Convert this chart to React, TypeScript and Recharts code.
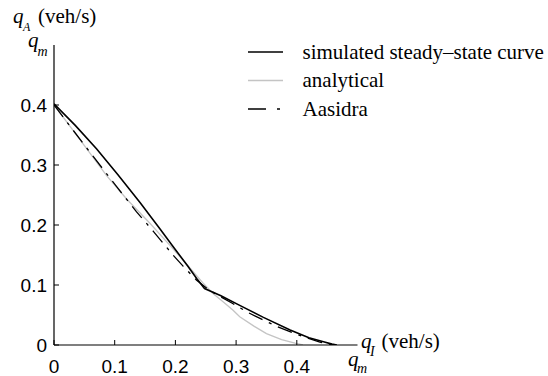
import React from 'react';
import { LineChart, Line, XAxis, YAxis, Legend } from 'recharts';

// ---- data ----
const xTicks = [0, 0.1, 0.2, 0.3, 0.4];
const yTicks = [0, 0.1, 0.2, 0.3, 0.4];

const simQI = [0, 0.035, 0.07, 0.105, 0.142, 0.175, 0.197, 0.22, 0.235, 0.248, 0.275, 0.306, 0.345, 0.389, 0.42, 0.444, 0.458, 0.466];
const simQA = [0.402, 0.366, 0.327, 0.284, 0.237, 0.193, 0.163, 0.132, 0.111, 0.094, 0.082, 0.066, 0.046, 0.025, 0.012, 0.0055, 0.0015, 0];

const anaQI = [0, 0.04, 0.087, 0.12, 0.158, 0.191, 0.22, 0.245, 0.262, 0.28, 0.295, 0.306, 0.33, 0.35, 0.375, 0.397, 0.41];
const anaQA = [0.4, 0.346, 0.282, 0.243, 0.203, 0.166, 0.133, 0.104, 0.086, 0.071, 0.058, 0.047, 0.031, 0.019, 0.009, 0.003, 0];

const aasQI = [0, 0.048, 0.1, 0.136, 0.164, 0.196, 0.213, 0.235, 0.255, 0.27, 0.293, 0.32, 0.342, 0.367, 0.392, 0.416, 0.438, 0.46];
const aasQA = [0.4, 0.336, 0.268, 0.222, 0.189, 0.15, 0.131, 0.108, 0.092, 0.083, 0.07, 0.054, 0.043, 0.031, 0.021, 0.012, 0.005, 0];

const seriesNames = ['simulated steady\u2013state curve', 'analytical', 'Aasidra'];

const toPoints = (xs: number[], ys: number[]) => xs.map((x, i) => ({ x, y: ys[i] }));
const simData = toPoints(simQI, simQA);
const anaData = toPoints(anaQI, anaQA);
const aasData = toPoints(aasQI, aasQA);

const tickFont = 'Liberation Sans, Arial, sans-serif';
const serif = 'Liberation Serif, Times New Roman, Times, serif';
const fmt = (v: number) => (v === 0 ? '0' : v.toFixed(1));

const YTick = (props: any) => {
  const { x, y, payload } = props;
  return (
    <g>
      <line x1={x} y1={y} x2={x + 5} y2={y} stroke="#000" strokeWidth={1} />
      <text x={x - 7} y={y} dy="0.38em" textAnchor="end" style={{ fontFamily: tickFont, fontSize: 19 }} fill="#000">
        {fmt(payload.value)}
      </text>
    </g>
  );
};

const XTick = (props: any) => {
  const { x, y, payload } = props;
  return (
    <g>
      <line x1={x} y1={y} x2={x} y2={y - 5} stroke="#000" strokeWidth={1} />
      <text x={x} y={y + 15} dy="0.71em" textAnchor="middle" style={{ fontFamily: tickFont, fontSize: 19 }} fill="#000">
        {fmt(payload.value)}
      </text>
    </g>
  );
};

const legendRows = [
  { color: '#000', width: 1.6, dash: undefined as string | undefined, y: 17 },
  { color: '#c4c4c4', width: 1.3, dash: undefined as string | undefined, y: 45.5 },
  { color: '#000', width: 1.3, dash: '18 11 3 11', y: 74 },
];

const renderLegend = () => (
  <svg width={308} height={90} style={{ display: 'block' }}>
    {legendRows.map((r, i) => (
      <g key={i}>
        <line x1={8} y1={r.y} x2={43} y2={r.y} stroke={r.color} strokeWidth={r.width} strokeDasharray={r.dash} />
        <text x={62.5} y={r.y + 6.5} style={{ fontFamily: serif, fontSize: 21 }} fill="#000">
          {seriesNames[i]}
        </text>
      </g>
    ))}
  </svg>
);

const it = (size: number) => ({ fontFamily: serif, fontSize: size, fontStyle: 'italic' as const });
const rm = (size: number) => ({ fontFamily: serif, fontSize: size });

export default function App() {
  return (
    <div style={{ position: 'absolute', left: 0, top: 0, width: 548, height: 376, background: '#fff' }}>
      <LineChart
        width={548}
        height={376}
        margin={{ top: 45, right: 190.5, bottom: 30, left: 53 }}
      >
        <XAxis
          type="number"
          dataKey="x"
          domain={[0, 0.5]}
          ticks={xTicks}
          height={1}
          tickSize={0}
          tickMargin={0}
          tickLine={false}
          tick={<XTick />}
          axisLine={{ stroke: '#000', strokeWidth: 1.2 }}
          allowDataOverflow
        />
        <YAxis
          type="number"
          dataKey="y"
          domain={[0, 0.5]}
          ticks={yTicks}
          width={1}
          tickSize={0}
          tickMargin={0}
          tickLine={false}
          tick={<YTick />}
          axisLine={{ stroke: '#000', strokeWidth: 1.2 }}
          allowDataOverflow
        />
        <Legend
          layout="vertical"
          align="center"
          verticalAlign="middle"
          content={renderLegend}
          wrapperStyle={{ position: 'absolute', left: 240, top: 35, width: 308, height: 90 }}
        />
        <Line data={anaData} dataKey="y" name={seriesNames[1]} type="linear" stroke="#c4c4c4" strokeWidth={1.3} dot={false} isAnimationActive={false} />
        <Line data={aasData} dataKey="y" name={seriesNames[2]} type="linear" stroke="#000" strokeWidth={1.3} strokeDasharray="15 7 3 7" dot={false} isAnimationActive={false} />
        <Line data={simData} dataKey="y" name={seriesNames[0]} type="linear" stroke="#000" strokeWidth={1.6} dot={false} isAnimationActive={false} />
      </LineChart>
      <svg width={548} height={376} style={{ position: 'absolute', left: 0, top: 0, pointerEvents: 'none' }}>
        <g fill="#000">
          <text x={13} y={23} style={it(21)}>q</text>
          <text x={23} y={31} style={it(12)}>A</text>
          <text x={38} y={23} style={rm(21)}>(veh/s)</text>
          <text x={28} y={47} style={it(21)}>q</text>
          <text x={37.5} y={56} style={it(14)}>m</text>
          <text x={361} y={348} style={it(21)}>q</text>
          <text x={370} y={356} style={it(14)}>I</text>
          <text x={381.5} y={348} style={rm(21)}>(veh/s)</text>
          <text x={348} y={366} style={it(21)}>q</text>
          <text x={357} y={373} style={it(14)}>m</text>
        </g>
      </svg>
    </div>
  );
}
